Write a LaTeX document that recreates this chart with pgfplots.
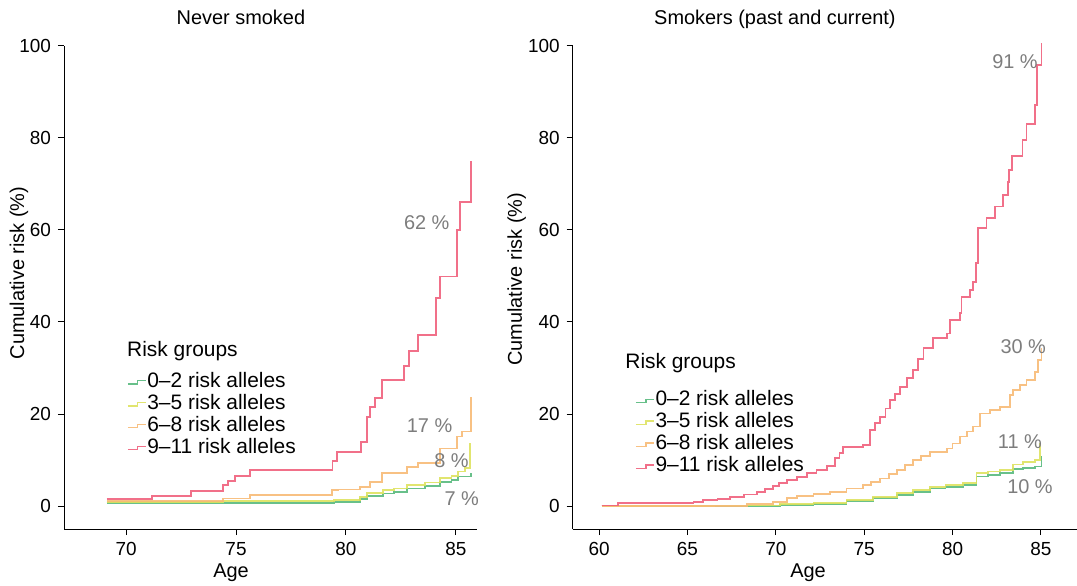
\documentclass[border=0pt]{standalone}
\usepackage{fontspec}
\setmainfont{Liberation Sans}
\usepackage{pgfplots}
\pgfplotsset{compat=1.18}
\definecolor{cgreen}{RGB}{88,185,125}
\definecolor{cyellow}{RGB}{222,226,95}
\definecolor{corange}{RGB}{247,186,118}
\definecolor{cred}{RGB}{240,96,124}
\definecolor{lblgray}{RGB}{125,125,125}
\pgfplotsset{
  km/.style={
    scale only axis, height=241.5bp, ymin=-5, ymax=100,
    axis x line=bottom, axis y line=left,
    axis line style={-, line width=0.5pt, black},
    tick align=outside, major tick length=3bp,
    tick style={line width=0.5pt, black},
    ytick={0,20,40,60,80,100},
    clip=false,
    ticklabel style={font=\fontsize{9.5}{11}\selectfont},
    /pgf/number format/assume math mode=true,
    label style={font=\fontsize{10}{12}\selectfont},
    legend cell align=left,
    legend image code/.code={\draw[##1, line width=0.6pt] (0pt,-0.8pt) -- (5pt,-0.8pt) -- (5pt,0.8pt) -- (9pt,0.8pt);},
    legend style={draw=none, fill=none, inner sep=0pt, row sep=0pt,
      font=\fontsize{10.5}{12}\selectfont,
      nodes={inner sep=0.5pt, text height=7.6pt, text depth=2.4pt}},
  },
  kmline/.style={const plot mark left, mark=none, line width=0.9pt, opacity=0.9},
}
\begin{document}
\begin{tikzpicture}
\path[use as bounding box] (0,0) rectangle (538.5bp,293bp);
% ---------------- Never smoked ----------------
\begin{axis}[km, at={(32bp,28.5bp)}, anchor=south west, width=206.65bp,
  xmin=67.18, xmax=85.97, xtick={70,75,80,85},
  xlabel={Age}, xlabel style={at={(axis description cs:0.404,-0.1014)}, anchor=base},
  ylabel={Cumulative risk (\%)}, ylabel style={at={(axis description cs:-0.109,0.53)}, anchor=center},
  legend style={at={(axis description cs:0.152,0.327)}, anchor=north west}]
\addplot[kmline, cgreen] coordinates {
(69.12,0.7) (79.45,0.9) (80.64,1.6) (80.94,2.1) (81.7,2.7) (82.2,3.0) (82.76,3.8)
(83.6,4.3) (84.27,5.3) (84.8,5.6) (85.11,6.4) (85.67,7.1)};
\addlegendentry{0–2 risk alleles}
\addplot[kmline, cyellow] coordinates {
(69.12,0.9) (74.42,1.1) (79.45,1.3) (80.64,2.0) (80.94,2.8) (81.7,3.4) (82.2,3.8) (82.76,4.6)
(83.6,5.1) (84.27,6.1) (84.8,6.6) (85.11,7.5) (85.4,8.2) (85.64,13.6)};
\addlegendentry{3–5 risk alleles}
\addplot[kmline, corange] coordinates {
(69.12,1.1) (74.42,1.65) (75.64,2.39) (79.35,3.48) (79.65,3.6) (80.64,4.2) (81.09,5.3)
(81.62,7.1) (82.15,7.25) (82.76,8.55) (83.26,9.4) (84.27,12.5) (85.06,15.1) (85.26,16.2) (85.67,23.8)};
\addlegendentry{6–8 risk alleles}
\addplot[kmline, cred] coordinates {
(69.12,1.45) (71.17,2.25) (72.94,3.26) (74.42,4.49) (74.65,5.43) (74.95,6.59) (75.64,7.8)
(79.39,9.78) (79.6,11.8) (80.68,13.98) (80.94,19.4) (81.09,21.6) (81.32,23.4) (81.62,27.4)
(82.65,30.4) (82.88,33.7) (83.26,37.2) (84.08,45.3) (84.27,49.9) (85.06,60.0) (85.18,66.0) (85.67,74.9)};
\addlegendentry{9–11 risk alleles}
\node[anchor=west, font=\fontsize{10.5}{12}\selectfont, inner sep=0pt] at (axis description cs:0.152,0.369) {Risk groups};
\node[font=\fontsize{10}{12}\selectfont, anchor=base] at (axis description cs:0.428,1.0435) {Never smoked};
\begin{scope}[every node/.style={font=\fontsize{10}{12}\selectfont, text=lblgray, inner sep=0pt}]
\node at (axis cs:83.67,61.5) {62 \%};
\node at (axis cs:83.8,17.4) {17 \%};
\node at (axis cs:84.8,9.85) {8 \%};
\node at (axis cs:85.26,1.5) {7 \%};
\end{scope}
\end{axis}
% ---------------- Smokers ----------------
\begin{axis}[km, at={(286.35bp,28.5bp)}, anchor=south west, width=252.15bp,
  xmin=58.51, xmax=87.04, xtick={60,65,70,75,80,85},
  xlabel={Age}, xlabel style={at={(axis description cs:0.4666,-0.1014)}, anchor=base},
  ylabel={Cumulative risk (\%)}, ylabel style={at={(axis description cs:-0.111,0.517)}, anchor=center},
  legend style={at={(axis description cs:0.1235,0.289)}, anchor=north west}]
\addplot[kmline, cgreen] coordinates {
(60.15,0.0) (70.24,0.2) (72.13,0.5) (74.0,1.1) (75.5,1.7) (76.84,2.4) (77.78,3.0) (78.73,3.8)
(79.6,4.2) (80.6,4.6) (81.35,6.4) (82.0,6.7) (82.67,7.1) (83.43,8.0) (84.0,8.3) (84.66,8.6) (85.03,10.8)};
\addlegendentry{0–2 risk alleles}
\addplot[kmline, cyellow] coordinates {
(60.15,0.0) (66.5,0.1) (70.24,0.36) (72.13,0.7) (74.0,1.3) (75.5,2.0) (76.84,2.75) (77.78,3.5)
(78.73,4.2) (79.6,4.6) (80.6,5.0) (81.35,7.2) (82.0,7.5) (82.67,7.9) (83.43,9.0) (84.0,9.5) (84.66,10.0) (84.94,13.7)};
\addlegendentry{3–5 risk alleles}
\addplot[kmline, corange] coordinates {
(60.15,0.0) (68.35,0.36) (69.86,0.94) (70.62,1.7) (71.19,2.25) (72.13,2.6) (73.07,3.1) (74.0,3.8)
(74.95,4.56) (75.4,5.2) (75.9,6.0) (76.4,6.9) (76.84,7.8) (77.3,8.9) (77.78,10.0) (78.2,10.9) (78.73,11.8)
(79.67,12.5) (80.0,13.6) (80.41,15.1) (80.8,16.2) (81.17,17.3) (81.54,20.1) (82.1,20.9) (82.67,21.6)
(83.24,24.1) (83.43,25.2) (83.8,26.3) (84.18,27.4) (84.66,29.2) (84.85,31.7) (85.03,34.3)};
\addlegendentry{6–8 risk alleles}
\addplot[kmline, cred] coordinates {
(60.15,0.1) (61.09,0.58) (65.34,0.94) (65.9,1.3) (66.7,1.6) (67.41,2.0) (68.2,2.5) (68.92,3.1)
(69.4,3.7) (69.86,4.4) (70.2,5.0) (70.62,5.65) (71.2,6.3) (71.75,7.1) (72.3,7.9) (72.88,8.77)
(73.35,10.4) (73.6,11.6) (73.82,12.9) (74.95,13.3) (75.33,16.5) (75.6,18.0) (75.9,19.4) (76.2,21.2)
(76.46,23.0) (76.75,24.4) (77.03,25.9) (77.4,27.8) (77.78,29.6) (78.05,31.9) (78.35,34.3) (78.91,36.5)
(79.67,37.5) (79.85,40.4) (80.41,41.9) (80.5,45.5) (80.98,47.0) (81.17,48.7) (81.32,52.8) (81.45,60.4)
(81.92,62.6) (82.39,65.1) (82.86,67.6) (83.15,70.5) (83.2,73.1) (83.34,76.1) (83.96,79.6) (84.18,83.1)
(84.66,87.2) (84.79,95.9) (85.03,100.6)};
\addlegendentry{9–11 risk alleles}
\node[anchor=west, font=\fontsize{10.5}{12}\selectfont, inner sep=0pt] at (axis description cs:0.1037,0.344) {Risk groups};
\node[font=\fontsize{10}{12}\selectfont, anchor=base] at (axis description cs:0.401,1.0435) {Smokers (past and current)};
\begin{scope}[every node/.style={font=\fontsize{10}{12}\selectfont, text=lblgray, inner sep=0pt}]
\node at (axis cs:83.53,96.5) {91 \%};
\node at (axis cs:84.0,34.6) {30 \%};
\node at (axis cs:83.81,14.0) {11 \%};
\node at (axis cs:84.38,4.2) {10 \%};
\end{scope}
\end{axis}
\end{tikzpicture}
\end{document}
